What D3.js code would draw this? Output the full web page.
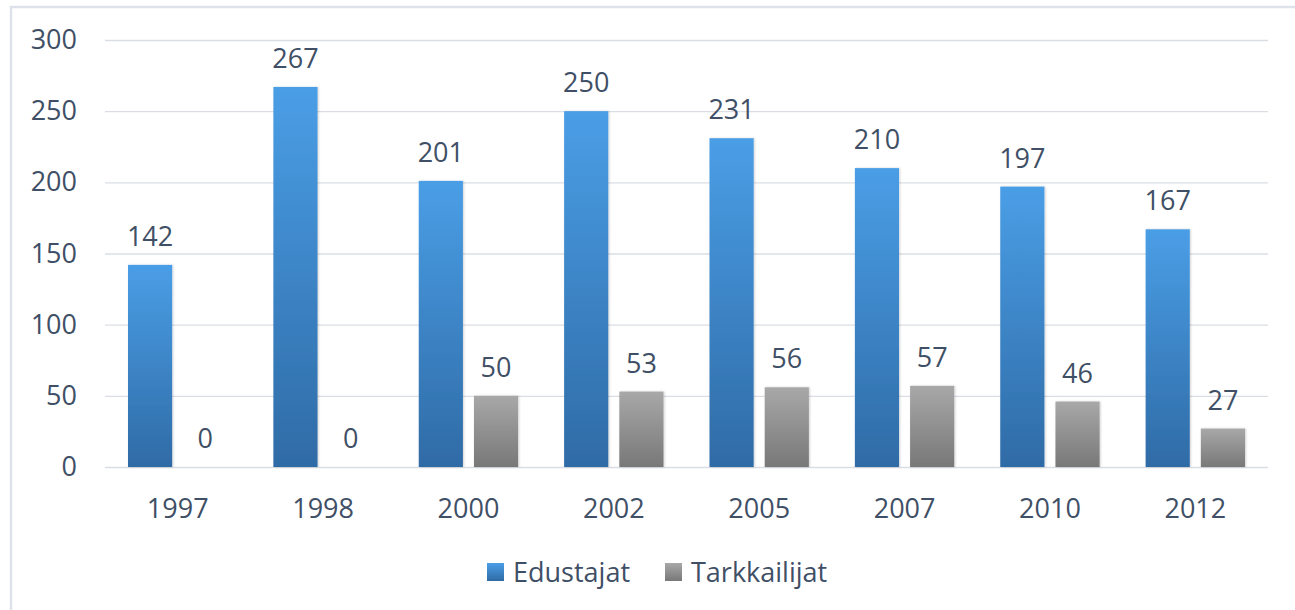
<!DOCTYPE html>
<html>
<head>
<meta charset="utf-8">
<script src="https://cdn.jsdelivr.net/npm/d3@7"></script>
<style>
  body { margin: 0; background: #fff; }
  text { font-family: "Open Sans", sans-serif; fill: #3f4f66; }
</style>
</head>
<body>
<div id="kaavio"></div>
<script>
// Data luettu kuvasta
const vuodet = ["1997", "1998", "2000", "2002", "2005", "2007", "2010", "2012"];
const edustajat = [142, 267, 201, 250, 231, 210, 197, 167];
const tarkkailijat = [0, 0, 50, 53, 56, 57, 46, 27];
const sarjat = ["Edustajat", "Tarkkailijat"];
const yTicks = [0, 50, 100, 150, 200, 250, 300];

const W = 1295, H = 610;
const margin = { top: 40, right: 27, bottom: 143, left: 105 };
const width = W - margin.left - margin.right;
const height = H - margin.top - margin.bottom;
const fontti = "27px";

const svg = d3.select("#kaavio").append("svg")
    .attr("width", W)
    .attr("height", H);

// Liukuvärit
const defs = svg.append("defs");
const gradit = [
    { id: "sininen", top: "#4a9ee6", bottom: "#2f6ba6" },
    { id: "harmaa", top: "#a8a8a8", bottom: "#787878" }
];
gradit.forEach(g => {
    const lg = defs.append("linearGradient").attr("id", g.id)
        .attr("x1", 0).attr("y1", 0).attr("x2", 0).attr("y2", 1);
    lg.append("stop").attr("offset", "0%").attr("stop-color", g.top);
    lg.append("stop").attr("offset", "100%").attr("stop-color", g.bottom);
});
const filt = defs.append("filter").attr("id", "varjo")
    .attr("x", "-20%").attr("y", "-5%").attr("width", "140%").attr("height", "110%");
filt.append("feDropShadow").attr("dx", 1).attr("dy", 0).attr("stdDeviation", 1.2)
    .attr("flood-color", "#000").attr("flood-opacity", 0.18);

// Kehys
svg.append("rect")
    .attr("x", 11).attr("y", 7)
    .attr("width", W).attr("height", H)
    .attr("fill", "none")
    .attr("stroke", "#dee3eb")
    .attr("stroke-width", 2.5);

const g = svg.append("g")
    .attr("transform", `translate(${margin.left}, ${margin.top})`);

// Asteikot
const x = d3.scaleBand().domain(vuodet).range([0, width]).paddingInner(0).paddingOuter(0);
const y = d3.scaleLinear().domain([0, 300]).range([height, 0]);
const xs = d3.scaleBand().domain(sarjat).range([23, x.bandwidth() - 23]).paddingInner(0.2);

// Ruudukko
g.append("g")
    .call(d3.axisLeft(y).tickValues(yTicks).tickSize(-width).tickFormat(""))
    .call(a => a.select(".domain").remove())
    .selectAll("line")
    .attr("stroke", "#dadee4")
    .attr("stroke-width", 1.3);

// Y-akselin tekstit
g.append("g")
    .attr("transform", "translate(-28, 0)")
    .call(d3.axisLeft(y).tickValues(yTicks).tickSize(0).tickPadding(0))
    .call(a => a.select(".domain").remove())
    .selectAll("text")
    .style("font-size", fontti)
    .attr("fill", "#3f4f66");

// X-akselin tekstit
g.append("g")
    .attr("transform", `translate(0, ${height})`)
    .call(d3.axisBottom(x).tickSize(0).tickPadding(32))
    .call(a => a.select(".domain").remove())
    .selectAll("text")
    .style("font-size", fontti)
    .attr("fill", "#3f4f66");

// Pylväät
const rivit = vuodet.map((v, i) => ({ vuosi: v, arvot: [edustajat[i], tarkkailijat[i]] }));
const ryhma = g.selectAll(".ryhma").data(rivit).enter().append("g")
    .attr("class", "ryhma")
    .attr("transform", d => `translate(${x(d.vuosi)}, 0)`);

ryhma.selectAll("rect").data(d => d.arvot.map((a, j) => ({ sarja: sarjat[j], arvo: a })))
    .enter().append("rect")
    .attr("x", d => xs(d.sarja))
    .attr("y", d => y(d.arvo))
    .attr("width", xs.bandwidth())
    .attr("height", d => height - y(d.arvo))
    .attr("fill", d => d.sarja === "Edustajat" ? "url(#sininen)" : "url(#harmaa)")
    .attr("filter", "url(#varjo)");

ryhma.selectAll(".arvo").data(d => d.arvot.map((a, j) => ({ sarja: sarjat[j], arvo: a })))
    .enter().append("text")
    .attr("class", "arvo")
    .attr("x", d => xs(d.sarja) + xs.bandwidth() / 2)
    .attr("y", d => y(d.arvo) - 19)
    .attr("text-anchor", "middle")
    .style("font-size", fontti)
    .text(d => d.arvo);

// Selite
const selite = svg.append("g").attr("transform", "translate(487, 563)");
const kohdat = [{ nimi: "Edustajat", x: 0, vari: "url(#sininen)" }, { nimi: "Tarkkailijat", x: 178, vari: "url(#harmaa)" }];
kohdat.forEach(k => {
    selite.append("rect")
        .attr("x", k.x).attr("y", 0)
        .attr("width", 17).attr("height", 18)
        .attr("fill", k.vari);
    selite.append("text")
        .attr("x", k.x + 26).attr("y", 19)
        .style("font-size", fontti)
        .text(k.nimi);
});
</script>
</body>
</html>
